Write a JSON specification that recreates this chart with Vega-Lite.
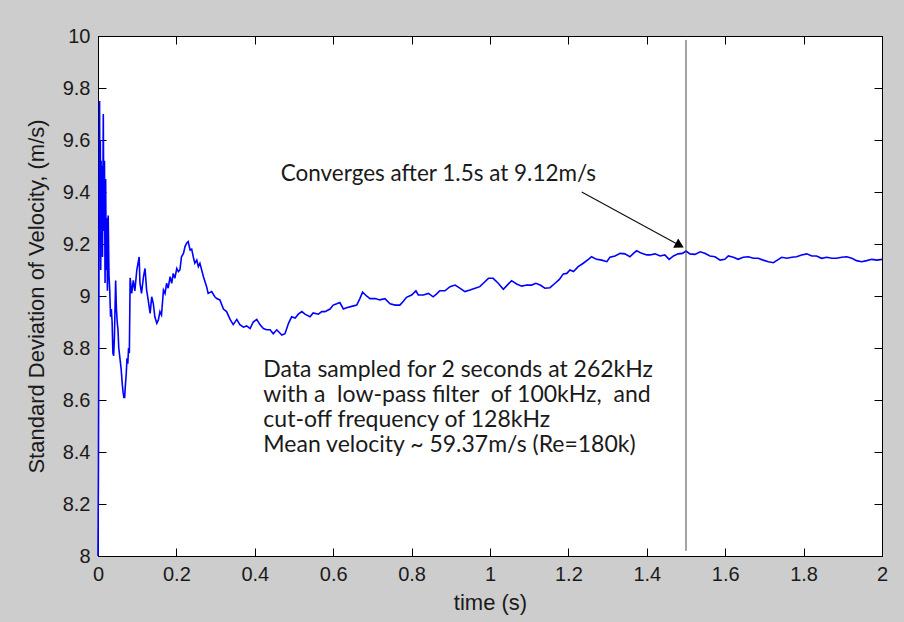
{
  "$schema": "https://vega.github.io/schema/vega-lite/v6.json",
  "width": 784,
  "height": 520,
  "autosize": {"type": "none"},
  "padding": {"left": 98, "top": 36, "right": 22, "bottom": 66},
  "background": "#cdcdcd",
  "datasets": {
    "sd": [
      {"t":0,"v":8.0},{"t":0.001,"v":8.3},{"t":0.002,"v":8.8},{"t":0.003,"v":9.45},{"t":0.004,"v":9.75},{"t":0.005,"v":9.3},{"t":0.006,"v":9.6},{"t":0.007,"v":9.1},{"t":0.008,"v":9.52},{"t":0.009,"v":9.2},{"t":0.01,"v":9.5},{"t":0.0115,"v":9.15},{"t":0.0135,"v":9.7},{"t":0.015,"v":9.25},{"t":0.0165,"v":9.52},{"t":0.018,"v":9.05},{"t":0.0195,"v":9.45},{"t":0.021,"v":9.1},{"t":0.0225,"v":9.3},{"t":0.024,"v":9.02},{"t":0.026,"v":9.31},{"t":0.028,"v":9.08},{"t":0.03,"v":9.02},{"t":0.032,"v":8.92},{"t":0.034,"v":8.95},{"t":0.036,"v":8.9},{"t":0.038,"v":8.78},{"t":0.04,"v":8.77},{"t":0.042,"v":8.85},{"t":0.045,"v":9.06},{"t":0.047,"v":8.95},{"t":0.049,"v":8.9},{"t":0.051,"v":8.87},{"t":0.053,"v":8.8},{"t":0.056,"v":8.76},{"t":0.059,"v":8.72},{"t":0.062,"v":8.66},{"t":0.064,"v":8.63},{"t":0.066,"v":8.61},{"t":0.068,"v":8.61},{"t":0.07,"v":8.66},{"t":0.072,"v":8.7},{"t":0.074,"v":8.76},{"t":0.076,"v":8.74},{"t":0.078,"v":8.8},{"t":0.08,"v":8.78},{"t":0.082,"v":9.07},
      {"t":0.086,"v":9.01},{"t":0.09,"v":9.06},{"t":0.094,"v":9.02},{"t":0.099,"v":9.1},{"t":0.105,"v":9.15},{"t":0.107,"v":9.05},{"t":0.111,"v":9.01},{"t":0.116,"v":9.074},{"t":0.12,"v":9.106},{"t":0.124,"v":9.023},{"t":0.128,"v":8.985},{"t":0.133,"v":8.933},{"t":0.137,"v":8.997},{"t":0.141,"v":8.972},{"t":0.145,"v":8.92},{"t":0.15,"v":8.895},{"t":0.154,"v":8.908},{"t":0.158,"v":8.94},{"t":0.162,"v":8.927},{"t":0.167,"v":9.023},{"t":0.171,"v":9.01},{"t":0.175,"v":9.049},{"t":0.179,"v":9.03},{"t":0.184,"v":9.074},{"t":0.188,"v":9.049},{"t":0.192,"v":9.087},{"t":0.196,"v":9.068},{"t":0.201,"v":9.106},{"t":0.205,"v":9.094},{"t":0.209,"v":9.1},{"t":0.213,"v":9.151},{"t":0.218,"v":9.164},{"t":0.222,"v":9.19},{"t":0.226,"v":9.203},{"t":0.23,"v":9.209},{"t":0.235,"v":9.177},{"t":0.239,"v":9.18},{"t":0.243,"v":9.151},{"t":0.247,"v":9.126},{"t":0.252,"v":9.138},{"t":0.256,"v":9.113},{"t":0.26,"v":9.126},{"t":0.269,"v":9.074},{"t":0.277,"v":9.036},{"t":0.281,"v":9.01},{"t":0.29,"v":9.017},{"t":0.298,"v":8.997},
      {"t":0.303,"v":8.99},{"t":0.311,"v":8.985},{"t":0.32,"v":8.95},{"t":0.328,"v":8.94},{"t":0.337,"v":8.91},{"t":0.345,"v":8.89},{"t":0.354,"v":8.91},{"t":0.362,"v":8.89},{"t":0.371,"v":8.88},{"t":0.379,"v":8.885},{"t":0.388,"v":8.875},{"t":0.396,"v":8.9},{"t":0.405,"v":8.91},{"t":0.413,"v":8.89},{"t":0.422,"v":8.875},{"t":0.43,"v":8.87},{"t":0.439,"v":8.87},{"t":0.447,"v":8.855},{"t":0.456,"v":8.87},{"t":0.469,"v":8.85},{"t":0.477,"v":8.855},{"t":0.486,"v":8.895},{"t":0.494,"v":8.92},{"t":0.503,"v":8.915},{"t":0.511,"v":8.93},{"t":0.52,"v":8.94},{"t":0.528,"v":8.93},{"t":0.541,"v":8.92},{"t":0.549,"v":8.935},{"t":0.562,"v":8.93},{"t":0.571,"v":8.94},{"t":0.579,"v":8.94},{"t":0.592,"v":8.95},{"t":0.6,"v":8.965},{"t":0.609,"v":8.97},{"t":0.617,"v":8.975},{"t":0.626,"v":8.95},{"t":0.634,"v":8.955},{"t":0.647,"v":8.96},{"t":0.66,"v":8.965},{"t":0.668,"v":8.99},{"t":0.675,"v":9.015},{"t":0.685,"v":9.0},{"t":0.694,"v":8.99},{"t":0.707,"v":8.99},{"t":0.719,"v":8.985},{"t":0.732,"v":8.99},{"t":0.745,"v":8.97},{"t":0.758,"v":8.965},{"t":0.77,"v":8.965},{"t":0.779,"v":8.98},{"t":0.787,"v":8.995},
      {"t":0.8,"v":9.004},{"t":0.811,"v":9.02},{"t":0.817,"v":9.004},{"t":0.83,"v":9.004},{"t":0.843,"v":9.01},{"t":0.855,"v":8.997},{"t":0.864,"v":9.008},{"t":0.872,"v":9.02},{"t":0.885,"v":9.02},{"t":0.898,"v":9.036},{"t":0.911,"v":9.042},{"t":0.923,"v":9.03},{"t":0.936,"v":9.017},{"t":0.949,"v":9.023},{"t":0.962,"v":9.03},{"t":0.974,"v":9.036},{"t":0.987,"v":9.055},{"t":0.996,"v":9.068},{"t":1.008,"v":9.068},{"t":1.021,"v":9.049},{"t":1.034,"v":9.026},{"t":1.044,"v":9.042},{"t":1.055,"v":9.059},{"t":1.068,"v":9.046},{"t":1.081,"v":9.038},{"t":1.094,"v":9.042},{"t":1.106,"v":9.042},{"t":1.117,"v":9.049},{"t":1.128,"v":9.042},{"t":1.14,"v":9.03},{"t":1.153,"v":9.032},{"t":1.166,"v":9.049},{"t":1.177,"v":9.064},{"t":1.187,"v":9.085},{"t":1.196,"v":9.087},{"t":1.204,"v":9.1},{"t":1.213,"v":9.094},{"t":1.225,"v":9.113},{"t":1.238,"v":9.126},{"t":1.251,"v":9.141},{"t":1.259,"v":9.151},{"t":1.272,"v":9.141},{"t":1.285,"v":9.138},{"t":1.298,"v":9.132},{"t":1.306,"v":9.149},{"t":1.319,"v":9.154},{"t":1.332,"v":9.164},{"t":1.344,"v":9.162},{"t":1.357,"v":9.151},{"t":1.366,"v":9.164},{"t":1.374,"v":9.174},{"t":1.387,"v":9.164},{"t":1.4,"v":9.158},
      {"t":1.408,"v":9.158},{"t":1.421,"v":9.162},{"t":1.434,"v":9.154},{"t":1.446,"v":9.158},{"t":1.457,"v":9.141},{"t":1.468,"v":9.154},{"t":1.48,"v":9.162},{"t":1.491,"v":9.164},{"t":1.5,"v":9.173},{"t":1.51,"v":9.162},{"t":1.523,"v":9.16},{"t":1.536,"v":9.17},{"t":1.548,"v":9.164},{"t":1.561,"v":9.154},{"t":1.574,"v":9.151},{"t":1.587,"v":9.138},{"t":1.599,"v":9.141},{"t":1.608,"v":9.154},{"t":1.621,"v":9.149},{"t":1.633,"v":9.141},{"t":1.646,"v":9.149},{"t":1.659,"v":9.151},{"t":1.672,"v":9.145},{"t":1.684,"v":9.145},{"t":1.697,"v":9.138},{"t":1.71,"v":9.132},{"t":1.723,"v":9.128},{"t":1.731,"v":9.136},{"t":1.744,"v":9.149},{"t":1.757,"v":9.145},{"t":1.77,"v":9.149},{"t":1.782,"v":9.151},{"t":1.795,"v":9.158},{"t":1.808,"v":9.162},{"t":1.821,"v":9.154},{"t":1.833,"v":9.154},{"t":1.846,"v":9.145},{"t":1.859,"v":9.149},{"t":1.872,"v":9.145},{"t":1.884,"v":9.145},{"t":1.897,"v":9.149},{"t":1.91,"v":9.151},{"t":1.923,"v":9.145},{"t":1.935,"v":9.136},{"t":1.948,"v":9.132},{"t":1.961,"v":9.136},{"t":1.974,"v":9.141},{"t":1.987,"v":9.138},{"t":2.0,"v":9.141}
    ]
  },
  "resolve": {"axis": {"x": "independent", "y": "independent"}},
  "layer": [
    {
      "data": {"name": "sd"},
      "mark": {"type": "line", "color": "#0000ff", "strokeWidth": 1.6, "interpolate": "linear"},
      "encoding": {
        "x": {"field": "t", "type": "quantitative", "scale": {"domain": [0, 2], "nice": false, "zero": false},
              "axis": {"orient": "bottom", "title": "time (s)", "values": [0,0.2,0.4,0.6,0.8,1,1.2,1.4,1.6,1.8,2], "titlePadding": 8}},
        "y": {"field": "v", "type": "quantitative", "scale": {"domain": [8, 10], "nice": false, "zero": false},
              "axis": {"orient": "left", "title": "Standard Deviation of Velocity, (m/s)", "values": [8,8.2,8.4,8.6,8.8,9,9.2,9.4,9.6,9.8,10], "titlePadding": 14}}
      }
    },
    {
      "data": {"values": [{}]},
      "mark": {"type": "rule", "color": "#4a4a4a", "strokeWidth": 1},
      "encoding": {
        "x": {"datum": 1.5, "type": "quantitative",
              "axis": {"orient": "top", "labels": false, "title": null, "values": [0,0.2,0.4,0.6,0.8,1,1.2,1.4,1.6,1.8,2]}},
        "y": {"datum": 8.02, "type": "quantitative",
              "axis": {"orient": "right", "labels": false, "title": null, "values": [8,8.2,8.4,8.6,8.8,9,9.2,9.4,9.6,9.8,10]}},
        "y2": {"datum": 9.985}
      }
    },
    {
      "data": {"values": [{}]},
      "mark": {"type": "rule", "color": "#111", "strokeWidth": 1.2},
      "encoding": {
        "x": {"datum": 1.234, "type": "quantitative", "axis": null},
        "y": {"datum": 9.40, "type": "quantitative", "axis": null},
        "x2": {"datum": 1.482},
        "y2": {"datum": 9.196}
      }
    },
    {
      "data": {"values": [{}]},
      "mark": {"type": "point", "shape": "triangle-right", "filled": true, "color": "#000", "opacity": 1, "size": 110, "angle": 28.7},
      "encoding": {
        "x": {"datum": 1.4839, "type": "quantitative", "axis": null},
        "y": {"datum": 9.1946, "type": "quantitative", "axis": null}
      }
    },
    {
      "data": {"values": [{}]},
      "mark": {"type": "text", "text": "Converges after 1.5s at 9.12m/s", "align": "left", "baseline": "alphabetic", "font": "Lato", "fontSize": 22.5, "color": "#1a1a1a"},
      "encoding": {
        "x": {"datum": 0.466, "type": "quantitative", "axis": null},
        "y": {"datum": 9.4435, "type": "quantitative", "axis": null}
      }
    },
    {
      "data": {"values": [{}]},
      "mark": {"type": "text", "text": ["Data sampled for 2 seconds at 262kHz", "with a \u00a0low-pass filter \u00a0of 100kHz, \u00a0and", "cut-off frequency of 128kHz", "Mean velocity ~ 59.37m/s (Re=180k)"], "align": "left", "baseline": "alphabetic", "lineHeight": 25.2, "font": "Lato", "fontSize": 23, "color": "#1a1a1a"},
      "encoding": {
        "x": {"datum": 0.4218, "type": "quantitative", "axis": null},
        "y": {"datum": 8.6896, "type": "quantitative", "axis": null}
      }
    }
  ],
  "config": {
    "view": {"stroke": "#000", "strokeWidth": 1, "fill": "#ffffff"},
    "axis": {
      "grid": false,
      "domainColor": "#000",
      "domainWidth": 1,
      "tickColor": "#000",
      "tickWidth": 1,
      "tickSize": -8,
      "labelPadding": 16,
      "labelFont": "Liberation Sans",
      "labelFontSize": 20,
      "labelColor": "#1a1a1a",
      "labelFlush": false,
      "labelOverlap": false,
      "labelBound": false,
      "format": "~g",
      "titleFont": "Liberation Sans",
      "titleFontSize": 22,
      "titleFontWeight": "normal",
      "titleColor": "#1a1a1a"
    }
  }
}
